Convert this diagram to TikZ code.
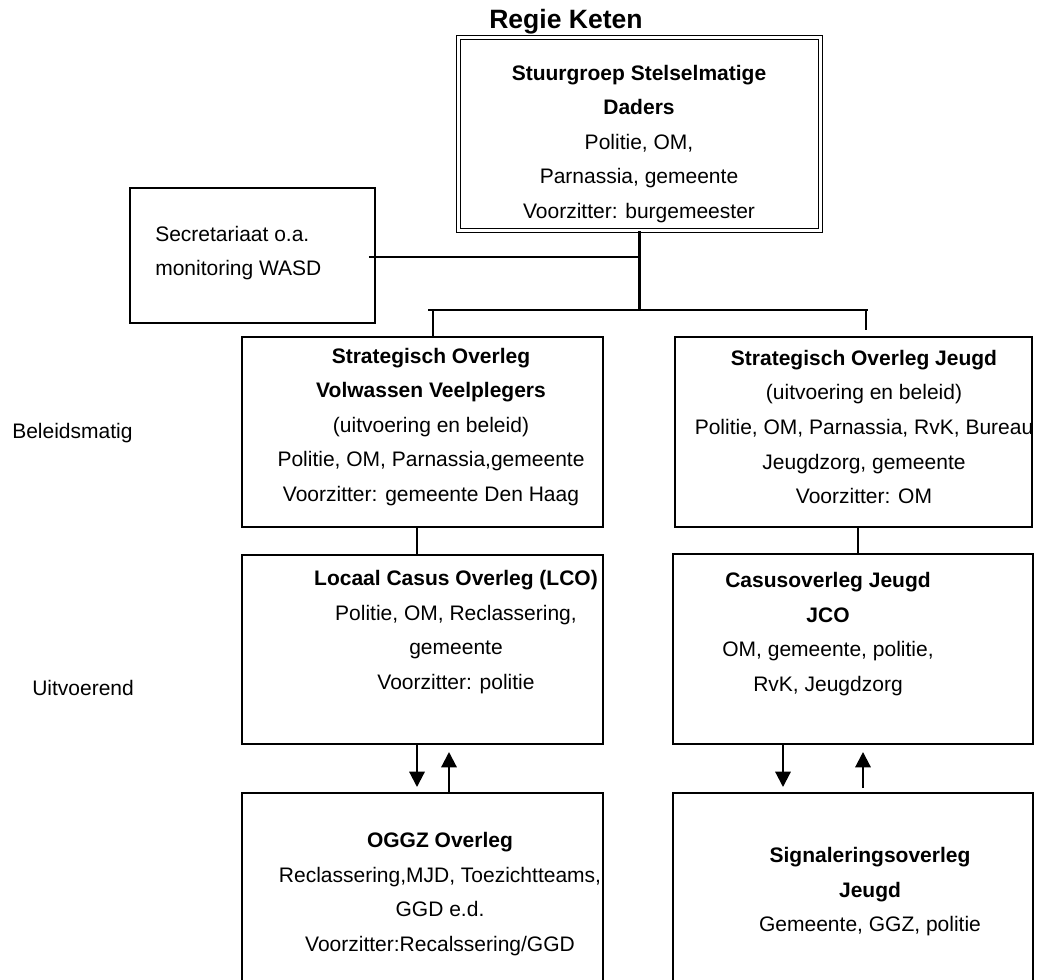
\documentclass[tikz,border=0pt]{standalone}
\usepackage{fontspec}
\setmainfont{Liberation Sans}
\usepackage{tikz}
\usetikzlibrary{arrows.meta,positioning,fit}

\begin{document}
\begin{tikzpicture}[
  x=0.75pt,y=-0.75pt,
  orgbox/.style={draw,line width=0.9pt,inner sep=0pt},
  regiebox/.style={draw,double,line width=1.3pt,double distance=1.6pt,inner sep=0pt},
  txt/.style={align=center,inner sep=0pt,font=\fontsize{15.75}{25.9}\selectfont},
  sidelabel/.style={inner sep=0pt,font=\fontsize{15.75}{19}\selectfont},
  conn/.style={line width=1.6pt},
  arrow/.style={-{Triangle[width=11.5pt,length=11.5pt]},line width=1.6pt}
]
\useasboundingbox (0,0) rectangle (1038,980);

% titel en stuurgroep
\node[inner sep=0pt,font=\bfseries\fontsize{19.9}{24}\selectfont] (regie) at (566,22) {Regie Keten};
\node[regiebox,fit={(458.5,37.5) (820.5,230.5)}] (stuur) {};
\node[txt] (stuurtxt) at (639,144) {\textbf{Stuurgroep Stelselmatige}\\\textbf{Daders}\\Politie, OM,\\Parnassia, gemeente\\Voorzitter: burgemeester};

\node[orgbox,fit={(130,188) (375,323)}] (secr) {};
\node[txt,anchor=west,align=left] (secrtxt) at (155,253) {Secretariaat o.a.\\monitoring WASD};

% beleidsmatig
\node[orgbox,fit={(242,337) (603,527)}] (sovv) {};
\node[txt] (sovvtxt) at (431,427) {\textbf{Strategisch Overleg}\\\textbf{Volwassen Veelplegers}\\(uitvoering en beleid)\\Politie, OM, Parnassia,gemeente\\Voorzitter: gemeente Den Haag};
\node[orgbox,fit={(675,337) (1032,527)}] (soj) {};
\node[txt] (sojtxt) at (864,427) {\textbf{Strategisch Overleg Jeugd}\\(uitvoering en beleid)\\Politie, OM, Parnassia, RvK, Bureau\\Jeugdzorg, gemeente\\Voorzitter: OM};

% uitvoerend
\node[orgbox,fit={(242,555) (603,744)}] (lco) {};
\node[txt] (lcotxt) at (456,632) {\textbf{Locaal Casus Overleg (LCO)}\\Politie, OM, Reclassering,\\gemeente\\Voorzitter: politie};
\node[orgbox,fit={(673,554) (1033,744)}] (jco) {};
\node[txt] (jcotxt) at (828,634) {\textbf{Casusoverleg Jeugd}\\\textbf{JCO}\\OM, gemeente, politie,\\RvK, Jeugdzorg};

\node[orgbox,fit={(242,793) (603,1000)}] (oggz) {};
\node[txt] (oggztxt) at (440,894) {\textbf{OGGZ Overleg}\\Reclassering,MJD, Toezichtteams,\\GGD e.d.\\Voorzitter:Recalssering/GGD};
\node[orgbox,fit={(673,793) (1033,1000)}] (sig) {};
\node[txt] (sigtxt) at (870,892) {\textbf{Signaleringsoverleg}\\\textbf{Jeugd}\\Gemeente, GGZ, politie};

\node[sidelabel,anchor=west] (beleid) at (12,433) {Beleidsmatig};
\node[sidelabel,anchor=west] (uitv) at (32,688) {Uitvoerend};

% lijnen
\coordinate (brL) at (428,310);
\coordinate (brR) at (868,310);
\coordinate (dropL) at (433,310);
\coordinate (dropR) at (866,310);
\coordinate (dropRend) at (866,330);
\coordinate (lcodown) at (417,787);
\coordinate (lcoup) at (449,752);
\coordinate (jcodown) at (783,787);
\coordinate (jcoup) at (863,752);
\coordinate (jcoupbase) at (863,788);
\coordinate (jstem) at (858,540);

\draw[conn] (stuur.south) -- (stuur.south |- brL);
\draw[conn] ([xshift=-5pt]secr.east |- 0,257) -- (stuur.south |- 0,257);
\draw[conn] (brL) -- (brR);
\draw[conn] (dropL) -- (dropL |- sovv.north);
\draw[conn] (dropR) -- (dropRend);
\draw[conn] (sovv.south -| lcodown) -- (lco.north -| lcodown);
\draw[conn] (soj.south -| jstem) -- (jco.north -| jstem);

\draw[arrow] (lco.south -| lcodown) -- (lcodown);
\draw[arrow] (oggz.north -| lcoup) -- (lcoup);
\draw[arrow] (jco.south -| jcodown) -- (jcodown);
\draw[arrow] (jcoupbase) -- (jcoup);
\end{tikzpicture}
\end{document}
